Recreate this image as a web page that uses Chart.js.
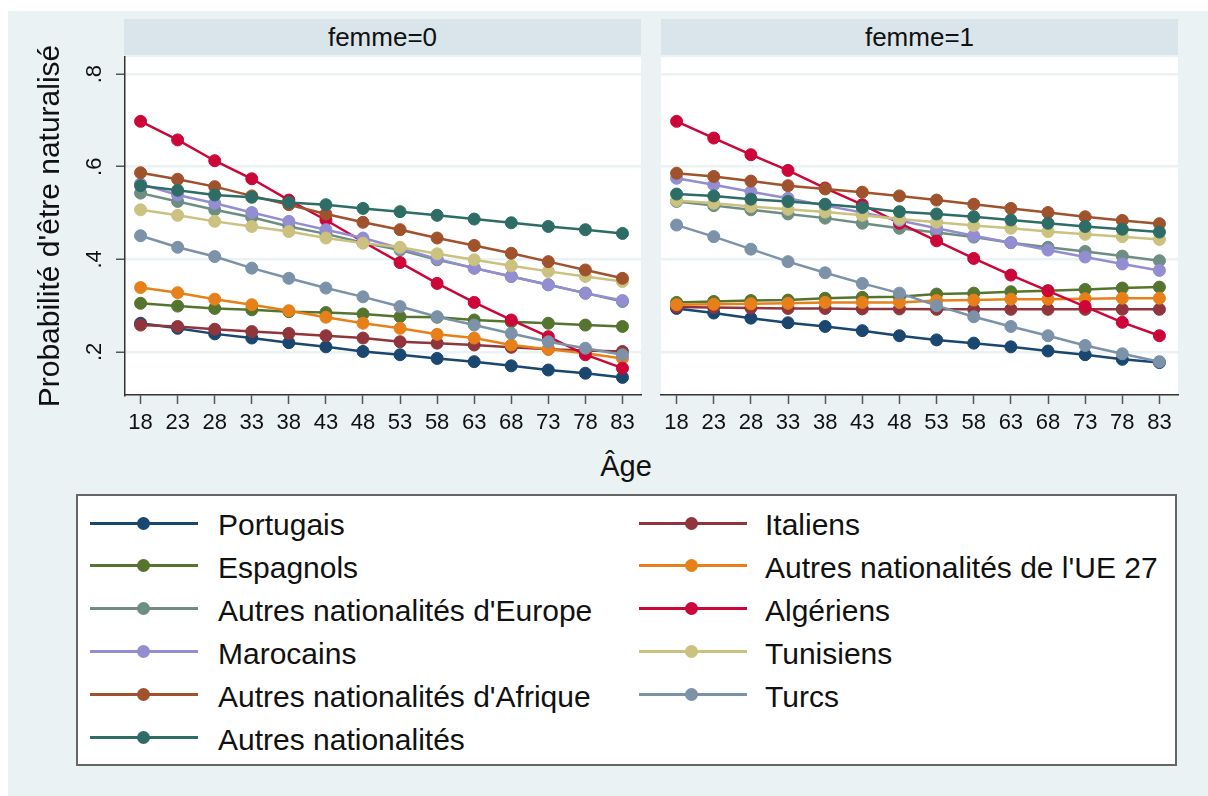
<!DOCTYPE html>
<html><head><meta charset="utf-8">
<script src="https://cdn.jsdelivr.net/npm/chart.js@4"></script>
<style>
body{margin:0;width:1208px;height:796px;background:#fff;position:relative;overflow:hidden;font-family:"Liberation Sans",Arial,sans-serif;color:#111;}
#bg{position:absolute;left:8px;top:11px;width:1200px;height:785px;background:#eaf2f3;}
canvas{position:absolute;top:0;}
.strip{position:absolute;top:19px;height:36px;background:#d9e5ea;display:flex;align-items:center;justify-content:center;font-size:26px;color:#111;}
#xt{position:absolute;left:526px;width:200px;top:452px;text-align:center;font-size:29px;line-height:29px;}
#legend{position:absolute;left:76px;top:494px;width:1097px;height:268px;background:#fff;border:2px solid #666;}
.lline{position:absolute;height:3px;width:108px;}
.ldot{position:absolute;width:13px;height:13px;border-radius:50%;}
.ltext{position:absolute;font-size:30px;line-height:30px;white-space:nowrap;color:#111;}
</style></head>
<body>
<div id="bg"></div>
<canvas id="c0" width="650" height="440" style="left:0px;width:650px;height:440px"></canvas>
<canvas id="c1" width="558" height="440" style="left:650px;width:558px;height:440px"></canvas>
<div class="strip" id="s0" style="left:124px;width:517px"></div>
<div class="strip" id="s1" style="left:661px;width:517px"></div>
<div id="xt">Âge</div>
<div id="legend"></div>
<script>
const ages=[18,23,28,33,38,43,48,53,58,63,68,73,78,83];
const seriesNames=["Portugais","Italiens","Espagnols","Autres nationalités de l'UE 27","Autres nationalités d'Europe","Algériens","Marocains","Tunisiens","Autres nationalités d'Afrique","Turcs","Autres nationalités"];
const seriesColors=["#1a476f","#90353b","#55752f","#e8801a","#6e8e84","#cc0638","#938dd2","#cac27e","#a0522d","#7b92a8","#2d6d66"];
const yTickValues=[0.2,0.4,0.6,0.8];
const yTickLabels=[".2",".4",".6",".8"];
const panelTitles=["femme=0","femme=1"];
const xTitle="Âge";
const yTitle="Probabilité d'être naturalisé";

// femme=0
const portugais0=[0.262,0.251,0.239,0.230,0.220,0.211,0.201,0.194,0.186,0.179,0.170,0.161,0.154,0.145];
const italiens0=[0.258,0.255,0.249,0.244,0.240,0.235,0.230,0.222,0.219,0.215,0.210,0.206,0.203,0.201];
const espagnols0=[0.305,0.299,0.294,0.291,0.287,0.285,0.282,0.276,0.275,0.269,0.265,0.262,0.258,0.255];
const ue27_0=[0.339,0.328,0.314,0.302,0.289,0.275,0.262,0.251,0.238,0.230,0.215,0.206,0.197,0.186];
const europe0=[0.543,0.525,0.507,0.491,0.471,0.455,0.436,0.420,0.399,0.381,0.363,0.345,0.327,0.309];
const algeriens0=[0.698,0.658,0.613,0.574,0.528,0.485,0.438,0.393,0.348,0.307,0.269,0.233,0.194,0.165];
const marocains0=[0.563,0.539,0.521,0.501,0.482,0.464,0.446,0.424,0.401,0.381,0.363,0.345,0.327,0.311];
const tunisiens0=[0.507,0.495,0.482,0.471,0.460,0.446,0.435,0.426,0.412,0.399,0.386,0.374,0.363,0.352];
const afrique0=[0.587,0.573,0.557,0.537,0.518,0.498,0.480,0.464,0.446,0.430,0.413,0.395,0.377,0.359];
const turcs0=[0.451,0.426,0.406,0.381,0.359,0.338,0.319,0.298,0.276,0.258,0.240,0.222,0.208,0.194];
const autres0=[0.559,0.549,0.539,0.534,0.523,0.518,0.510,0.503,0.495,0.487,0.479,0.471,0.464,0.456];

// femme=1
const portugais1=[0.294,0.284,0.273,0.263,0.255,0.246,0.235,0.226,0.219,0.211,0.202,0.194,0.184,0.177];
const italiens1=[0.297,0.296,0.295,0.294,0.294,0.293,0.293,0.292,0.292,0.292,0.292,0.292,0.292,0.292];
const espagnols1=[0.307,0.309,0.311,0.312,0.316,0.318,0.319,0.325,0.327,0.330,0.332,0.335,0.338,0.340];
const ue27_1=[0.302,0.303,0.304,0.305,0.307,0.307,0.307,0.311,0.312,0.314,0.314,0.315,0.316,0.316];
const europe1=[0.525,0.516,0.507,0.498,0.489,0.478,0.467,0.458,0.448,0.436,0.426,0.417,0.407,0.397];
const algeriens1=[0.698,0.662,0.626,0.592,0.554,0.518,0.478,0.440,0.402,0.366,0.332,0.298,0.264,0.235];
const marocains1=[0.575,0.561,0.546,0.532,0.516,0.501,0.484,0.467,0.451,0.436,0.420,0.405,0.390,0.376];
const tunisiens1=[0.527,0.521,0.514,0.508,0.502,0.495,0.487,0.480,0.473,0.467,0.460,0.454,0.449,0.443];
const afrique1=[0.586,0.579,0.569,0.559,0.552,0.545,0.537,0.528,0.519,0.510,0.501,0.492,0.484,0.477];
const turcs1=[0.474,0.449,0.422,0.395,0.371,0.348,0.327,0.300,0.276,0.255,0.235,0.214,0.196,0.179];
const autres1=[0.541,0.537,0.530,0.525,0.519,0.512,0.503,0.498,0.492,0.485,0.478,0.471,0.465,0.459];

const panel0=[portugais0,italiens0,espagnols0,ue27_0,europe0,algeriens0,marocains0,tunisiens0,afrique0,turcs0,autres0];
const panel1=[portugais1,italiens1,espagnols1,ue27_1,europe1,algeriens1,marocains1,tunisiens1,afrique1,turcs1,autres1];

const FONT='"Liberation Sans", Arial, Helvetica, sans-serif';
Chart.defaults.font.family=FONT;
Chart.defaults.color='#111';

const plotBg={id:'plotBg',beforeDraw(c){const a=c.chartArea,ctx=c.ctx;ctx.save();ctx.fillStyle='#fff';ctx.fillRect(a.left,a.top,a.right-a.left,a.bottom-a.top);ctx.restore();}};

function makePanel(id,vals,isLeft){
  const datasets=seriesNames.map((n,i)=>({
    label:n,
    data:ages.map((a,j)=>({x:a,y:vals[i][j]})),
    borderColor:seriesColors[i],backgroundColor:seriesColors[i],
    pointBackgroundColor:seriesColors[i],pointBorderColor:seriesColors[i],
    pointRadius:6,pointBorderWidth:1,borderWidth:2.5,tension:0,order:-i
  }));
  const yScale={
    min:0.107,max:0.837,
    afterBuildTicks(s){s.ticks=yTickValues.map(v=>({value:v}));},
    afterFit(s){s.width=isLeft?125:0;},
    grid:{color:'#eaf2f3',lineWidth:2.5,drawTicks:isLeft,tickLength:9,tickColor:'#555',tickWidth:1.5},
    border:{display:isLeft,color:'#333',width:1.5}
  };
  if(isLeft){
    yScale.ticks={minRotation:90,maxRotation:90,crossAlign:'center',padding:12,color:'#111',font:{size:22},
      callback:(v)=>yTickLabels[yTickValues.indexOf(v)]};
    yScale.title={display:true,text:yTitle,font:{size:30,lineHeight:1.2},color:'#111',padding:{top:33,bottom:0}};
  } else {
    yScale.ticks={display:false};
  }
  return new Chart(document.getElementById(id),{
    type:'line',
    data:{datasets},
    options:{
      responsive:false,animation:false,devicePixelRatio:1,
      layout:{padding:isLeft?{left:0,top:57,right:9,bottom:0}:{left:11,top:57,right:30,bottom:0}},
      plugins:{legend:{display:false},tooltip:{enabled:false}},
      scales:{
        x:{type:'linear',min:15.9,max:85.5,
          afterBuildTicks(s){s.ticks=ages.map(v=>({value:v}));},
          afterFit(s){s.height=45;},
          ticks:{autoSkip:false,maxRotation:0,minRotation:0,padding:6,color:'#111',font:{size:22},callback:v=>String(v)},
          grid:{drawOnChartArea:false,drawTicks:true,tickLength:9,tickColor:'#555',tickWidth:1.5},
          border:{display:true,color:'#333',width:1.5}},
        y:yScale
      }
    },
    plugins:[plotBg]
  });
}
makePanel('c0',panel0,true);
makePanel('c1',panel1,false);

document.getElementById('s0').textContent=panelTitles[0];
document.getElementById('s1').textContent=panelTitles[1];
document.getElementById('xt').textContent=xTitle;

// legend: two columns, row-major order like the original
const leg=document.getElementById('legend');
seriesNames.forEach((n,i)=>{
  const col=i%2,row=Math.floor(i/2);
  const cy=27+42.9*row;
  const lx=col?561:12, dx=col?606.5:58.5, tx=col?687:140;
  const l=document.createElement('div');l.className='lline';l.style.left=lx+'px';l.style.top=(cy-1.5)+'px';l.style.background=seriesColors[i];leg.appendChild(l);
  const d=document.createElement('div');d.className='ldot';d.style.left=dx+'px';d.style.top=(cy-6.5)+'px';d.style.background=seriesColors[i];leg.appendChild(d);
  const t=document.createElement('div');t.className='ltext';t.style.left=tx+'px';t.style.top=(cy-13)+'px';t.textContent=n;leg.appendChild(t);
});
</script>
</body></html>
